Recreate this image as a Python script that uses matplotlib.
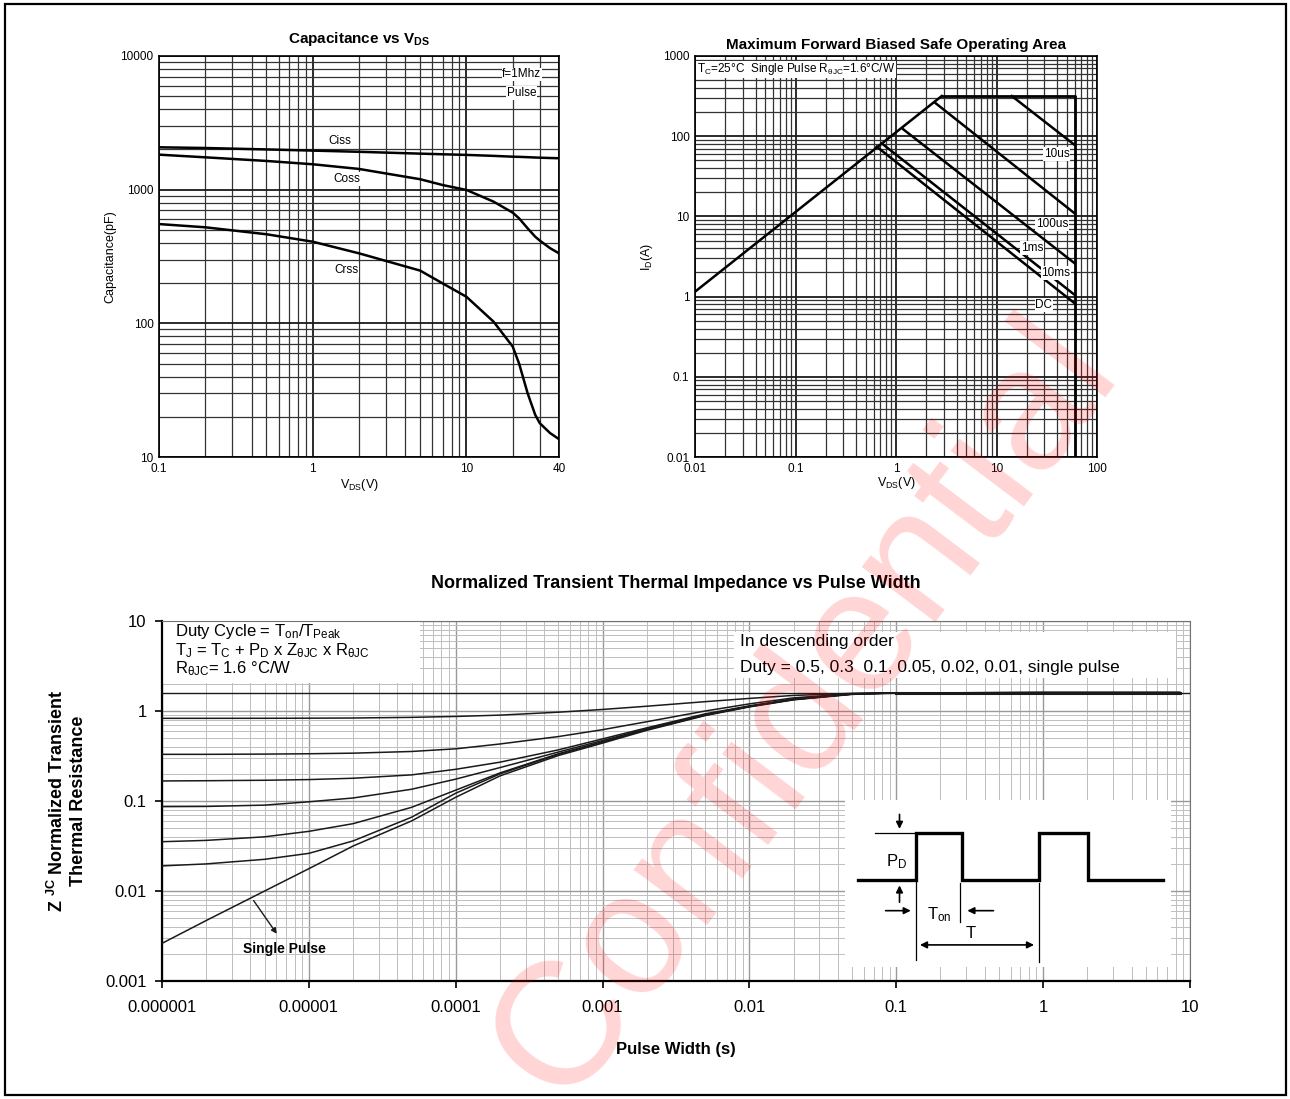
import numpy as np
import matplotlib
matplotlib.use("Agg")
import matplotlib.pyplot as plt
from matplotlib.patches import Rectangle
from matplotlib.ticker import LogLocator, NullFormatter

plt.rcParams["font.family"] = ["Liberation Sans", "DejaVu Sans"]
plt.rcParams["mathtext.fontset"] = "custom"
plt.rcParams["mathtext.rm"] = "Liberation Sans"
plt.rcParams["mathtext.it"] = "Liberation Sans:italic"
plt.rcParams["mathtext.bf"] = "Liberation Sans:bold"

# ---- capacitance vs Vds ----
vds_cap = [0.1, 0.2, 0.5, 1, 2, 5, 7, 10, 15, 20, 22, 25, 28, 30, 35, 40]
ciss = [2075, 2050, 2000, 1960, 1920, 1860, 1840, 1820, 1790, 1765, 1760, 1750, 1740, 1735, 1725, 1718]
coss = [1828, 1746, 1640, 1549, 1429, 1197, 1083, 995, 814, 673, 610, 514, 445, 416, 365, 334]
crss = [553, 523, 464, 408, 334, 248, 199, 158, 103, 67, 50, 30, 20.7, 17.9, 15.1, 13.6]

# ---- safe operating area ----
soa_rds_v = [0.01, 2.85]
soa_rds_i = [1.15, 317]
soa_lim_v = [2.85, 60, 60]
soa_lim_i = [317, 317, 0.01]
soa_lines = {
    "10us": ([14.2, 60], [317, 77.6]),
    "100us": ([2.44, 60], [262, 10.9]),
    "1ms": ([1.18, 60], [122, 2.6]),
    "10ms": ([0.72, 60], [81.5, 1.05]),
    "DC": ([0.643, 60], [74, 0.824]),
}

# ---- transient thermal impedance ----
t_pw = [1e-6, 2e-6, 5e-6, 1e-5, 2e-5, 5e-5, 1e-4, 2e-4, 5e-4, 1e-3, 2e-3, 5e-3,
        1e-2, 2e-2, 5e-2, 1e-1, 1, 8.5]
z_d50 = [0.829, 0.829, 0.830, 0.832, 0.836, 0.850, 0.870, 0.900, 0.970, 1.04, 1.13, 1.27,
         1.38, 1.49, 1.57, 1.59, 1.60, 1.60]
z_d30 = [0.330, 0.330, 0.332, 0.335, 0.340, 0.355, 0.380, 0.430, 0.520, 0.620, 0.760, 1.00,
         1.20, 1.40, 1.56, 1.59, 1.60, 1.60]
z_d10 = [0.167, 0.168, 0.170, 0.173, 0.179, 0.195, 0.225, 0.270, 0.370, 0.490, 0.650, 0.930,
         1.14, 1.36, 1.55, 1.59, 1.60, 1.60]
z_d05 = [0.0866, 0.0870, 0.0900, 0.0980, 0.108, 0.135, 0.175, 0.235, 0.350, 0.470, 0.635, 0.910,
         1.13, 1.35, 1.545, 1.59, 1.60, 1.60]
z_d02 = [0.0353, 0.0365, 0.0400, 0.0460, 0.0560, 0.0850, 0.132, 0.205, 0.335, 0.455, 0.625, 0.905,
         1.125, 1.345, 1.54, 1.59, 1.60, 1.60]
z_d01 = [0.0190, 0.0200, 0.0225, 0.0262, 0.0360, 0.0660, 0.122, 0.200, 0.330, 0.450, 0.620, 0.900,
         1.12, 1.34, 1.54, 1.59, 1.60, 1.60]
z_single = [0.00262, 0.0047, 0.0100, 0.0177, 0.0316, 0.0600, 0.110, 0.190, 0.320, 0.440, 0.610, 0.890,
            1.11, 1.33, 1.53, 1.58, 1.60, 1.60]
z_rth = 1.6

fig = plt.figure(figsize=(12.9, 10.99), dpi=100)


def log_axes(ax, grid_major, grid_minor, lw_major, lw_minor):
    ax.set_xscale("log")
    ax.set_yscale("log")
    for axis in (ax.xaxis, ax.yaxis):
        axis.set_minor_locator(LogLocator(base=10, subs=np.arange(2, 10), numticks=30))
        axis.set_minor_formatter(NullFormatter())
    ax.grid(True, which="major", color=grid_major, lw=lw_major)
    ax.grid(True, which="minor", color=grid_minor, lw=lw_minor)
    ax.set_axisbelow(True)


# ================= top left =================
ax_c = fig.add_axes([159 / 1290, 1 - 457 / 1099, 400 / 1290, 401 / 1099])
log_axes(ax_c, "0.1", "0.2", 1.3, 0.9)
ax_c.plot(vds_cap, ciss, color="black", lw=1.8)
ax_c.plot(vds_cap, coss, color="black", lw=1.8)
ax_c.plot(vds_cap, crss, color="black", lw=1.8)
ax_c.set_xlim(0.1, 40)
ax_c.set_ylim(10, 10000)
ax_c.set_xticks([0.1, 1, 10, 40], ["0.1", "1", "10", "40"])
ax_c.set_yticks([10, 100, 1000, 10000], ["10", "100", "1000", "10000"])
ax_c.tick_params(which="both", length=0, labelsize=8.5, pad=4)
for s in ax_c.spines.values():
    s.set_linewidth(1.2)
ax_c.set_title(r"Capacitance vs V$_{\mathbf{DS}}$", fontsize=11, fontweight="bold", pad=9)
ax_c.set_xlabel(r"V$_{\mathrm{DS}}$(V)", fontsize=9, labelpad=2)
ax_c.set_ylabel("Capacitance(pF)", fontsize=9, labelpad=3)
box = dict(facecolor="white", edgecolor="none", pad=0.5)
ax_c.text(0.907, 0.954, "f=1Mhz", transform=ax_c.transAxes, fontsize=8.5, ha="center", va="center", bbox=box)
ax_c.text(0.907, 0.908, "Pulse", transform=ax_c.transAxes, fontsize=8.5, ha="center", va="center", bbox=box)
ax_c.text(0.4525, 0.789, "Ciss", transform=ax_c.transAxes, fontsize=8.5, ha="center", va="center", bbox=box)
ax_c.text(0.469, 0.693, "Coss", transform=ax_c.transAxes, fontsize=8.5, ha="center", va="center", bbox=box)
ax_c.text(0.469, 0.466, "Crss", transform=ax_c.transAxes, fontsize=8.5, ha="center", va="center", bbox=box)

# ================= top right =================
ax_s = fig.add_axes([695 / 1290, 1 - 457 / 1099, 402 / 1290, 401 / 1099])
log_axes(ax_s, "0.1", "0.2", 1.3, 0.9)
ax_s.plot(soa_rds_v, soa_rds_i, color="black", lw=1.8)
ax_s.plot(soa_lim_v, soa_lim_i, color="black", lw=2.0)
for name, (v, i) in soa_lines.items():
    ax_s.plot(v, i, color="black", lw=1.8)
ax_s.set_xlim(0.01, 100)
ax_s.set_ylim(0.01, 1000)
ax_s.set_xticks([0.01, 0.1, 1, 10, 100], ["0.01", "0.1", "1", "10", "100"])
ax_s.set_yticks([0.01, 0.1, 1, 10, 100, 1000], ["0.01", "0.1", "1", "10", "100", "1000"])
ax_s.tick_params(which="both", length=0, labelsize=8.5, pad=4)
for s in ax_s.spines.values():
    s.set_linewidth(1.2)
ax_s.set_title("Maximum Forward Biased Safe Operating Area", fontsize=11, fontweight="bold", pad=5)
ax_s.set_xlabel(r"V$_{\mathrm{DS}}$(V)", fontsize=9, labelpad=0)
ax_s.set_ylabel(r"I$_{\mathrm{D}}$(A)", fontsize=9, labelpad=6)
ax_s.text(0.005, 0.967, r"T$_{\mathrm{C}}$=25°C  Single Pulse R$_{\mathrm{θJC}}$=1.6°C/W",
          transform=ax_s.transAxes, fontsize=8.5, ha="left", va="center", bbox=box)
soa_label_pos = {"10us": (0.900, 0.756), "100us": (0.888, 0.581), "1ms": (0.838, 0.521),
                 "10ms": (0.898, 0.459), "DC": (0.868, 0.379)}
for name, (lx, ly) in soa_label_pos.items():
    ax_s.text(lx, ly, name, transform=ax_s.transAxes, fontsize=8.5, ha="center", va="center", bbox=box)

# ================= bottom =================
ax_z = fig.add_axes([162 / 1290, 1 - 981 / 1099, 1028 / 1290, 360 / 1099])
log_axes(ax_z, "0.6", "0.75", 1.0, 0.7)
for z in (z_d50, z_d30, z_d10, z_d05, z_d02, z_d01, z_single):
    ax_z.plot(t_pw, z, color="#1a1a1a", lw=1.1, zorder=3)
ax_z.axhline(z_rth, color="#1a1a1a", lw=1.0, zorder=3)
ax_z.plot(t_pw[-3:], [z_rth] * 3, color="#1a1a1a", lw=2.2, zorder=3)
ax_z.set_xlim(1e-6, 10)
ax_z.set_ylim(0.001, 10)
ax_z.set_xticks([1e-6, 1e-5, 1e-4, 1e-3, 1e-2, 1e-1, 1, 10],
                ["0.000001", "0.00001", "0.0001", "0.001", "0.01", "0.1", "1", "10"])
ax_z.set_yticks([0.001, 0.01, 0.1, 1, 10], ["0.001", "0.01", "0.1", "1", "10"])
ax_z.tick_params(which="major", direction="out", length=5, width=1.2, labelsize=12, pad=9)
ax_z.tick_params(which="minor", length=0)
ax_z.tick_params(axis="y", pad=6)
ax_z.spines["left"].set_linewidth(1.6)
ax_z.spines["bottom"].set_linewidth(1.6)
ax_z.spines["top"].set_color("0.45")
ax_z.spines["right"].set_color("0.45")
ax_z.set_title("Normalized Transient Thermal Impedance vs Pulse Width", fontsize=13,
               fontweight="bold", pad=24)
ax_z.set_xlabel("Pulse Width (s)", fontsize=12, fontweight="bold", labelpad=19)
ax_z.set_ylabel("Z $^{\\mathbf{JC}}$ Normalized Transient\nThermal Resistance", fontsize=13,
                fontweight="bold", labelpad=13, linespacing=1.25)

# white boxes that hide the grid under the notes
ax_z.add_patch(Rectangle((0, 0.828), 0.251, 0.172, transform=ax_z.transAxes,
                         facecolor="white", edgecolor="none", zorder=1))
ax_z.add_patch(Rectangle((0.556, 0.842), 0.43, 0.127, transform=ax_z.transAxes,
                         facecolor="white", edgecolor="none", zorder=1))
ax_z.text(0.0126, 0.972, r"Duty Cycle = T$_{\mathrm{on}}$/T$_{\mathrm{Peak}}$", transform=ax_z.transAxes,
          fontsize=12, va="center", zorder=4)
ax_z.text(0.0126, 0.919, r"T$_{\mathrm{J}}$ = T$_{\mathrm{C}}$ + P$_{\mathrm{D}}$ x Z$_{\mathrm{θJC}}$ x R$_{\mathrm{θJC}}$",
          transform=ax_z.transAxes, fontsize=12, va="center", zorder=4)
ax_z.text(0.0126, 0.867, r"R$_{\mathrm{θJC}}$= 1.6 °C/W", transform=ax_z.transAxes,
          fontsize=12, va="center", zorder=4)
ax_z.text(0.562, 0.942, "In descending order", transform=ax_z.transAxes, fontsize=12.5, va="center", zorder=4)
ax_z.text(0.562, 0.872, "Duty = 0.5, 0.3  0.1, 0.05, 0.02, 0.01, single pulse", transform=ax_z.transAxes,
          fontsize=12.5, va="center", zorder=4)

ax_z.annotate("", xy=(6.2e-6, 0.00316), xytext=(4.1e-6, 0.0083),
              arrowprops=dict(arrowstyle="-|>", color="#1a1a1a", lw=1.0, mutation_scale=8), zorder=4)
ax_z.text(0.1187, 0.0889, "Single Pulse", transform=ax_z.transAxes, fontsize=10, fontweight="bold",
          family=["Liberation Sans Narrow", "Liberation Sans"], ha="center", va="center", zorder=4)

# pulse diagram inset
ins = ax_z.inset_axes([0.664, 0.039, 0.318, 0.464])
ins.set_facecolor("white")
ins.set_zorder(5)
ins.set_xlim(0, 1)
ins.set_ylim(0, 1)
ins.set_xticks([])
ins.set_yticks([])
for s in ins.spines.values():
    s.set_visible(False)
wave_x = [0.041, 0.217, 0.217, 0.360, 0.360, 0.596, 0.596, 0.744, 0.744, 0.973]
wave_y = [0.521, 0.521, 0.801, 0.801, 0.521, 0.521, 0.801, 0.801, 0.521, 0.521]
ins.plot(wave_x, wave_y, color="black", lw=2.4, solid_joinstyle="miter")
ins.plot([0.092, 0.217], [0.801, 0.801], color="black", lw=0.9)
ins.plot([0.217, 0.217], [0.521, 0.042], color="black", lw=0.9)
ins.plot([0.354, 0.354], [0.501, 0.271], color="black", lw=0.9)
ins.plot([0.596, 0.596], [0.501, 0.032], color="black", lw=0.9)
arr = dict(arrowstyle="-|>", color="black", lw=1.2, mutation_scale=10)
ins.annotate("", xy=(0.168, 0.810), xytext=(0.168, 0.930), arrowprops=arr)
ins.annotate("", xy=(0.168, 0.505), xytext=(0.168, 0.371), arrowprops=arr)
ins.annotate("", xy=(0.211, 0.337), xytext=(0.117, 0.337), arrowprops=arr)
ins.annotate("", xy=(0.367, 0.337), xytext=(0.464, 0.337), arrowprops=arr)
ins.annotate("", xy=(0.588, 0.132), xytext=(0.222, 0.132),
             arrowprops=dict(arrowstyle="<|-|>", color="black", lw=1.2, mutation_scale=10))
ins.text(0.158, 0.631, r"P$_{\mathrm{D}}$", fontsize=12, ha="center", va="center")
ins.text(0.291, 0.311, r"T$_{\mathrm{on}}$", fontsize=12, ha="center", va="center")
ins.text(0.387, 0.198, "T", fontsize=12, ha="center", va="center")

# outer frame
fig.patches.append(Rectangle((0.004, 0.004), 0.993, 0.992, transform=fig.transFigure,
                             fill=False, edgecolor="black", lw=1.6))

# watermark
fig.text(0.624, 0.354, "Confidential", fontsize=126, color="red", alpha=0.17, rotation=53,
         ha="center", va="center", zorder=100)

fig.savefig("out.png", dpi=100)
